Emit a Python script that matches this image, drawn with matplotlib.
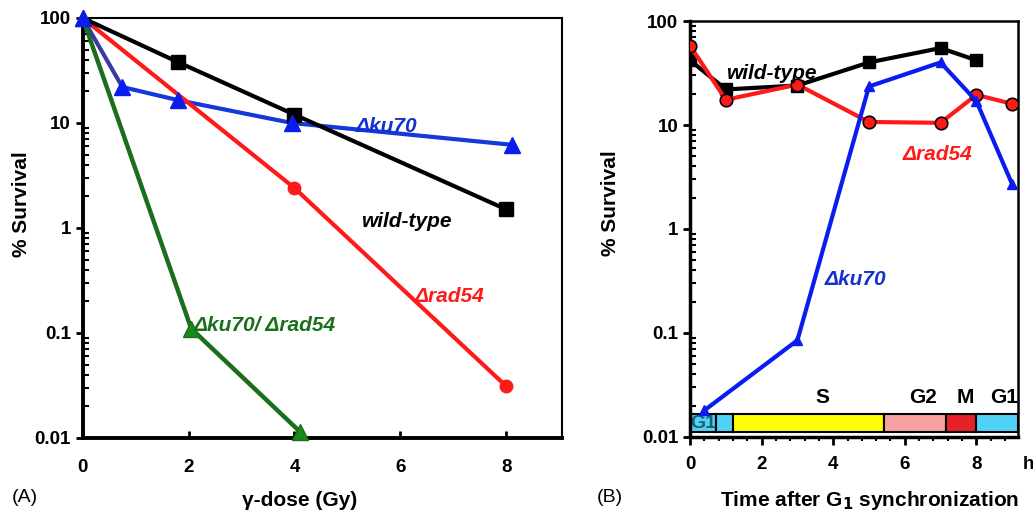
import numpy as np
import matplotlib
matplotlib.use('Agg')
import matplotlib.pyplot as plt
from matplotlib.ticker import FixedLocator, LogLocator, NullFormatter, MultipleLocator

plt.rcParams['font.family'] = ['Liberation Sans', 'DejaVu Sans']

# ---- panel A: survival vs gamma dose ----
wt_dose = [0, 1.8, 4, 8]
wt_surv = [100, 38, 12, 1.5]
ku_dose = [0, 0.75, 1.8, 3.95, 8.1]
ku_surv = [100, 22, 16.5, 10, 6.2]
rad_dose = [0, 4, 8]
rad_surv = [100, 2.4, 0.031]
dbl_dose = [0, 2.05, 4.1]
dbl_surv = [100, 0.11, 0.0115]

# ---- panel B: survival vs time after G1 synchronization ----
wtB_t = [0, 1, 3, 5, 7, 8]
wtB_surv = [42, 22, 24, 40, 55, 42]
radB_t = [0, 1, 3, 5, 7, 8, 9]
radB_surv = [58, 17.5, 24.5, 10.7, 10.5, 19.5, 16]
kuB_t = [0.4, 3, 5, 7, 8, 9]
kuB_surv = [0.018, 0.085, 23.5, 40, 17, 2.7]

phase_edges = [0, 0.73, 1.2, 5.42, 7.16, 7.98, 9.15]
phase_colors = ['#4fd2f5', '#4fd2f5', '#ffff00', '#f7a1a3', '#e8202a', '#4fd2f5']
phase_names = ['S', 'G2', 'M', 'G1']
phase_label_x = [3.7, 6.5, 7.7, 8.77]

ytick_vals = [0.01, 0.1, 1, 10, 100]
ytick_labels = ['0.01', '0.1', '1', '10', '100']

RED = '#ff1a1a'
BLUE = '#0a1cf0'
GREEN = '#1b6e1b'
TFS = 13.5

fig = plt.figure(figsize=(10.33, 5.14), dpi=100)
axA = fig.add_axes([0.080, 0.148, 0.464, 0.817])
axB = fig.add_axes([0.668, 0.150, 0.317, 0.809])


def style_log(ax):
    ax.set_yscale('log')
    ax.set_ylim(0.01, 100)
    ax.yaxis.set_major_locator(FixedLocator(ytick_vals))
    ax.set_yticklabels(ytick_labels)
    ax.yaxis.set_minor_locator(LogLocator(base=10, subs=np.arange(2, 10)))
    ax.yaxis.set_minor_formatter(NullFormatter())
    ax.tick_params(axis='y', which='major', direction='out', length=5, width=2)
    ax.tick_params(axis='y', which='minor', direction='in', length=4, width=1.5)
    for lab in ax.get_xticklabels() + ax.get_yticklabels():
        lab.set_fontweight('bold')
    ax.tick_params(labelsize=TFS)


# panel A
axA.plot(ku_dose[:2], ku_surv[:2], '-', color='#3b3b9e', lw=3, zorder=2)
axA.plot(ku_dose[1:], ku_surv[1:], '-', color='#1538d8', lw=3, zorder=2)
axA.plot(wt_dose, wt_surv, 's-', color='black', lw=3, ms=10, zorder=4)
axA.plot(rad_dose, rad_surv, 'o-', color=RED, lw=3, ms=9, zorder=3)
axA.plot(dbl_dose, dbl_surv, '^-', color=GREEN, mfc='#1a8a1a', lw=3.2, ms=12, zorder=3,
         clip_on=False)
axA.plot(ku_dose, ku_surv, '^', color=BLUE, ms=12, zorder=6, clip_on=False)
axA.set_xlim(0, 9.05)
axA.xaxis.set_major_locator(FixedLocator([0, 2, 4, 6, 8]))
axA.tick_params(axis='x', direction='in', length=5, width=2, pad=15)
style_log(axA)
for s in ['left', 'bottom']:
    axA.spines[s].set_linewidth(2.8)
for s in ['top', 'right']:
    axA.spines[s].set_linewidth(1.5)

axA.text(5.15, 9.3, 'Δku70', color='#1530d0', fontsize=15, fontweight='bold', style='italic',
         va='center')
axA.text(5.28, 1.15, 'wild-type', color='black', fontsize=15, fontweight='bold', style='italic',
         va='center')
axA.text(6.26, 0.22, 'Δrad54', color=RED, fontsize=15, fontweight='bold', style='italic',
         va='center')
axA.text(2.09, 0.117, 'Δku70/ Δrad54', color=GREEN, fontsize=15, fontweight='bold',
         style='italic', va='center')

# panel B
for i in range(len(phase_colors)):
    lo, hi = phase_edges[i], phase_edges[i + 1]
    axB.bar(lo, 0.0166 - 0.0112, bottom=0.0112, width=hi - lo, align='edge',
            color=phase_colors[i], edgecolor='black', lw=1.5, zorder=1)
axB.text(0.36, 0.0136, 'G1', color='#1d6078', fontsize=14, fontweight='bold',
         ha='center', va='center', zorder=2)
for name, xp in zip(phase_names, phase_label_x):
    axB.text(xp, 0.0237, name, color='black', fontsize=15, fontweight='bold',
             ha='center', va='center')

axB.plot(wtB_t, wtB_surv, 's-', color='black', lw=3, ms=9, zorder=3)
axB.plot(radB_t, radB_surv, 'o-', color=RED, mec='black', mew=1.2, lw=3, ms=9, zorder=4)
axB.plot(kuB_t, kuB_surv, '^-', color=BLUE, lw=3, ms=7, zorder=5)

axB.set_xlim(0, 9.15)
axB.xaxis.set_major_locator(FixedLocator([0, 2, 4, 6, 8]))
axB.xaxis.set_minor_locator(MultipleLocator(0.4))
axB.tick_params(axis='x', which='major', direction='out', length=6, width=2, pad=8)
axB.tick_params(axis='x', which='minor', direction='out', length=3, width=1.5)
style_log(axB)
for s in ['left', 'bottom']:
    axB.spines[s].set_linewidth(2.5)
for s in ['top', 'right']:
    axB.spines[s].set_linewidth(1.8)
axB.text(9.45, -0.067, 'h', transform=axB.get_xaxis_transform(), fontsize=TFS,
         fontweight='bold', ha='center', va='center')

axB.text(1.04, 31.6, 'wild-type', color='black', fontsize=15, fontweight='bold',
         style='italic', va='center', zorder=6)
axB.text(5.93, 5.25, 'Δrad54', color=RED, fontsize=15, fontweight='bold', style='italic',
         va='center')
axB.text(3.76, 0.33, 'Δku70', color='#1530d0', fontsize=15, fontweight='bold', style='italic',
         va='center')

# labels
fig.text(22 / 1033, 1 - 204 / 514, '% Survival', rotation=90, fontsize=15, fontweight='bold',
         ha='center', va='center')
fig.text(610 / 1033, 1 - 203 / 514, '% Survival', rotation=90, fontsize=15, fontweight='bold',
         ha='center', va='center')
fig.text(300 / 1033, 1 - 500 / 514, 'γ-dose (Gy)', fontsize=15, fontweight='bold',
         ha='center', va='center')
fig.text(870 / 1033, 1 - 500 / 514, 'Time after G$_\\mathbf{1}$ synchronization', fontsize=15,
         fontweight='bold', ha='center', va='center')
fig.text(12 / 1033, 1 - 498 / 514, '(A)', fontsize=14, ha='left', va='center')
fig.text(597 / 1033, 1 - 498 / 514, '(B)', fontsize=14, ha='left', va='center')

fig.savefig('out.png', dpi=100)
